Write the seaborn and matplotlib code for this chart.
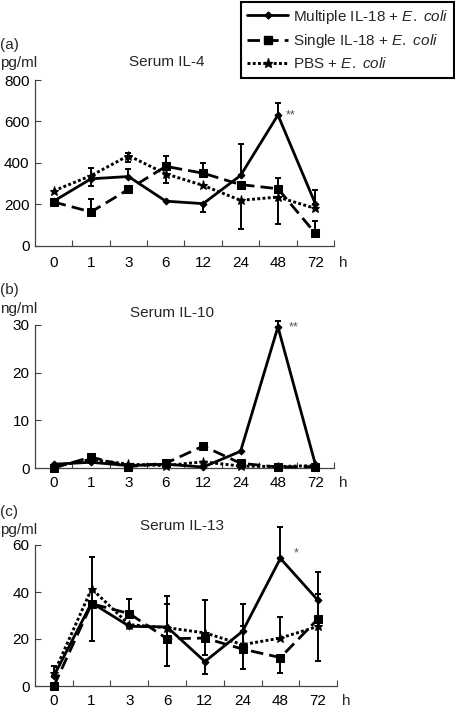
import numpy as np
import pandas as pd
import matplotlib
matplotlib.use("Agg")
import matplotlib.pyplot as plt
from matplotlib.lines import Line2D
import seaborn as sns

sns.set_theme(style="white")
plt.rcParams["font.family"] = ["Liberation Sans", "DejaVu Sans"]
plt.rcParams["mathtext.fontset"] = "custom"
plt.rcParams["mathtext.it"] = "Liberation Sans:italic"
plt.rcParams["mathtext.rm"] = "Liberation Sans"

# ---------------- data ----------------
time_labels = ["0", "1", "3", "6", "12", "24", "48", "72"]
group_names = ["Multiple IL-18 + $\\mathit{E.\\ coli}$",
               "Single IL-18 + $\\mathit{E.\\ coli}$",
               "PBS + $\\mathit{E.\\ coli}$"]

# (a) Serum IL-4, pg/ml
multiple_a = [215, 323, 334, 215, 203, 339, 631, 203]
multiple_a_lo = [12, 36, 0, 0, 40, 0, 0, 0]
multiple_a_hi = [12, 53, 34, 0, 0, 150, 57, 68]
single_a = [211, 163, 272, 383, 350, 295, 275, 60]
single_a_lo = [10, 0, 0, 0, 0, 0, 0, 0]
single_a_hi = [10, 64, 0, 52, 48, 0, 53, 58]
pbs_a = [265, 338, 435, 347, 291, 219, 235, 180]
pbs_a_lo = [0, 0, 32, 43, 0, 140, 130, 0]
pbs_a_hi = [0, 0, 11, 0, 0, 0, 0, 0]

# (b) Serum IL-10, ng/ml
multiple_b = [0.8, 1.2, 0.5, 0.8, 0.2, 3.5, 29.6, 0.8]
multiple_b_lo = [0, 0, 0, 0, 0, 0, 0, 0]
multiple_b_hi = [0, 0, 0, 0, 0, 0, 1.3, 0]
single_b = [0.0, 2.3, 0.3, 1.0, 4.6, 1.0, 0.2, 0.3]
single_b_lo = [0, 0, 0, 0, 0, 0, 0, 0]
single_b_hi = [0, 0, 0, 0, 0, 0, 0, 0]
pbs_b = [0.3, 1.8, 0.8, 0.5, 1.3, 0.4, 0.3, 0.5]
pbs_b_lo = [0, 0, 0, 0, 0, 0, 0, 0]
pbs_b_hi = [0, 0, 0, 0, 0, 0, 0, 0]

# (c) Serum IL-13, pg/ml
multiple_c = [4.3, 35.4, 25.4, 25.1, 10.4, 23.3, 54.3, 36.4]
multiple_c_lo = [0, 16.4, 0, 16.8, 5.3, 0, 0, 0]
multiple_c_hi = [4.3, 19.3, 0, 0, 0, 11.4, 13.2, 12.0]
single_c = [0.0, 35.0, 30.8, 20.1, 20.4, 15.7, 12.1, 28.6]
single_c_lo = [0, 0, 0, 0, 0, 8.6, 6.4, 17.9]
single_c_hi = [0, 0, 6.2, 18.0, 16.4, 0, 0, 0]
pbs_c = [5.4, 41.4, 26.1, 24.8, 22.6, 17.6, 20.4, 25.4]
pbs_c_lo = [0, 0, 0, 0, 9.3, 0, 0, 0]
pbs_c_hi = [0, 0, 0, 10.0, 0, 8.1, 9.0, 13.9]

# ---------------- figure ----------------
W, H = 456, 708
FS = 11
fig = plt.figure(figsize=(W / 100, H / 100), dpi=100)

styles = [
    dict(linestyle="-", marker="D", markersize=3.5, lw=2.0),
    dict(linestyle=(0, (4.5, 2.2)), marker="s", markersize=5.5, lw=2.0),
    dict(linestyle=(0, (1, 0.8)), marker="*", markersize=6.5, lw=2.1),
]


def px_axes(left, top, right, bottom):
    return fig.add_axes([left / W, 1 - bottom / H, (right - left) / W, (bottom - top) / H])


def draw(ax, series, ylim, yticks, star, star_xy, xpad):
    x = np.arange(len(time_labels))
    for (vals, lo, hi), st in zip(series, styles):
        df = pd.DataFrame({"t": x, "v": vals})
        sns.lineplot(data=df, x="t", y="v", ax=ax, color="black",
                     linestyle=st["linestyle"], lw=st["lw"], marker=st["marker"],
                     markersize=st["markersize"], markeredgecolor="black",
                     markerfacecolor="black", errorbar=None, clip_on=False, zorder=3)
        lo = np.asarray(lo, float)
        hi = np.asarray(hi, float)
        mask = (lo + hi) > 0
        if mask.any():
            ax.errorbar(x[mask], np.asarray(vals, float)[mask], yerr=[lo[mask], hi[mask]],
                        fmt="none", ecolor="black", elinewidth=1.4, capsize=2.5,
                        capthick=1.4, clip_on=False, zorder=4)
    ax.set_xlim(-0.5, len(time_labels) - 0.5)
    ax.set_ylim(*ylim)
    ax.set_yticks(yticks)
    ax.set_yticklabels([str(t) for t in yticks])
    ax.set_xticks(x)
    ax.set_xticklabels(time_labels)
    ax.set_xticks(x + 0.5, minor=True)
    ax.tick_params(axis="x", which="major", length=0, labelsize=FS, pad=xpad, colors="black")
    ax.tick_params(axis="x", which="minor", direction="in", length=4, width=0.8,
                   colors="#444444", bottom=True)
    ax.tick_params(axis="y", direction="in", length=4, width=0.8, labelsize=FS,
                   pad=4, left=True, labelcolor="black", color="#444444")
    ax.set_xlabel("")
    ax.set_ylabel("")
    for s in ["top", "right"]:
        ax.spines[s].set_visible(False)
    for s in ["left", "bottom"]:
        ax.spines[s].set_color("#444444")
        ax.spines[s].set_linewidth(0.9)
    ax.text(star_xy[0], star_xy[1], star, fontsize=9, color="#555555",
            ha="left", va="center")
    # unit "h" on the same line as the category labels, just past the axis end
    ax.annotate("h", xy=(len(time_labels) - 0.25, 0), xycoords=ax.get_xaxis_transform(),
                xytext=(0, -xpad), textcoords="offset points",
                fontsize=FS, ha="center", va="top", annotation_clip=False)


ax_a = px_axes(35, 80, 334, 245.7)
draw(ax_a,
     [(multiple_a, multiple_a_lo, multiple_a_hi),
      (single_a, single_a_lo, single_a_hi),
      (pbs_a, pbs_a_lo, pbs_a_hi)],
     (0, 800), [0, 200, 400, 600, 800], "**", (6.2, 630), 7.5)

ax_b = px_axes(35, 325, 334, 468)
draw(ax_b,
     [(multiple_b, multiple_b_lo, multiple_b_hi),
      (single_b, single_b_lo, single_b_hi),
      (pbs_b, pbs_b_lo, pbs_b_hi)],
     (0, 30), [0, 10, 20, 30], "**", (6.3, 29.5), 6)

ax_c = px_axes(35, 545, 337, 686)
draw(ax_c,
     [(multiple_c, multiple_c_lo, multiple_c_hi),
      (single_c, single_c_lo, single_c_hi),
      (pbs_c, pbs_c_lo, pbs_c_hi)],
     (0, 60), [0, 20, 40, 60], "*", (6.35, 56.5), 5.5)

# panel labels and titles
def ftext(x, y, s, **kw):
    fig.text(x / W, 1 - y / H, s, fontsize=FS, va="center", **kw)

ftext(0, 45, "(a)", ha="left")
ftext(0, 63, "pg/ml", ha="left")
ftext(167, 62, "Serum IL-4", ha="center")
ftext(0, 290, "(b)", ha="left")
ftext(0, 309, "ng/ml", ha="left")
ftext(172, 313, "Serum IL-10", ha="center")
ftext(0, 512, "(c)", ha="left")
ftext(0, 530, "pg/ml", ha="left")
ftext(182, 526, "Serum IL-13", ha="center")

# legend
handles = [Line2D([0], [0], color="black", linestyle=st["linestyle"], lw=st["lw"],
                  marker=st["marker"], markersize=st["markersize"])
           for st in styles]
leg = fig.legend(handles, group_names, loc="upper right",
                 bbox_to_anchor=(1.0, 1.0), frameon=True, fancybox=False,
                 edgecolor="black", framealpha=1, fontsize=FS, handlelength=2.7,
                 handletextpad=0.3, labelspacing=0.42, borderpad=0.4,
                 borderaxespad=0.1)
leg.get_frame().set_linewidth(1.5)

fig.savefig("out.png", dpi=100)
